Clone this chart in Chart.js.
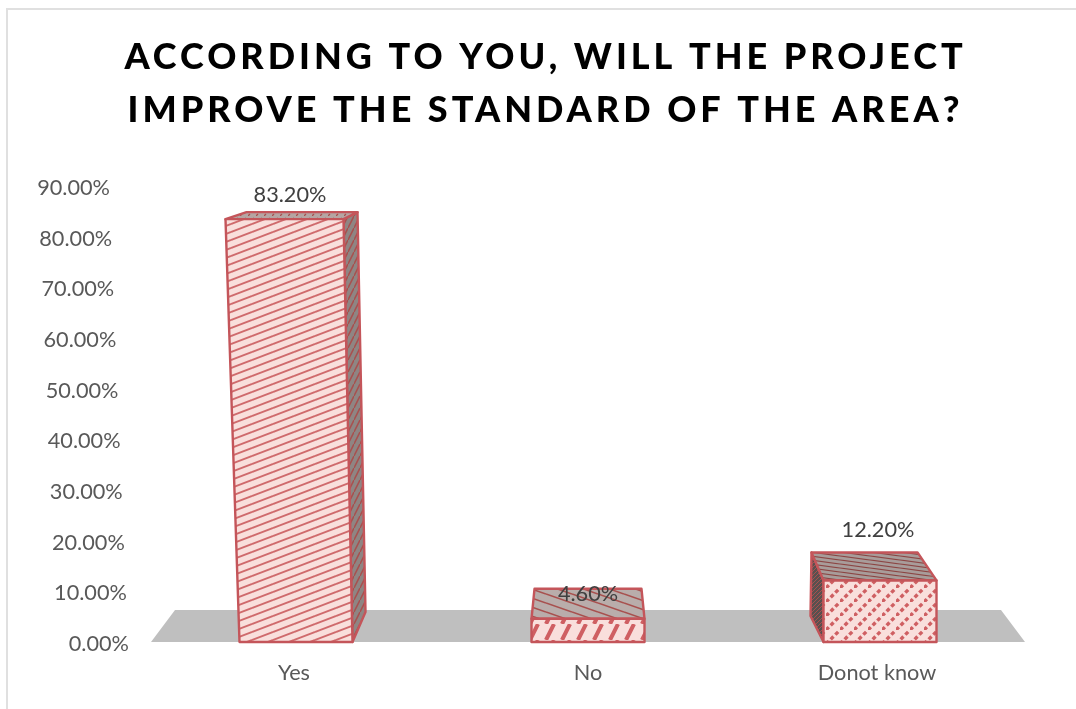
<!DOCTYPE html>
<html>
<head>
<meta charset="utf-8">
<style>
  html, body { margin: 0; padding: 0; background: #fff; }
  #wrap { position: relative; width: 1076px; height: 709px; overflow: hidden; }
  #frame { position: absolute; left: 6px; top: 8px; width: 1090px; height: 730px; border: 2px solid #e0e0e0; box-sizing: border-box; }
  canvas { position: absolute; left: 0; top: 0; }
</style>
<script src="https://cdn.jsdelivr.net/npm/chart.js@4/dist/chart.umd.min.js"></script>
</head>
<body>
<div id="wrap">
  <div id="frame"></div>
  <canvas id="chart" width="1076" height="709"></canvas>
</div>
<script>
const categories = ['Yes', 'No', 'Donot know'];
const shares = [0.832, 0.046, 0.122];
const titleLines = ['ACCORDING TO YOU, WILL THE PROJECT', 'IMPROVE THE STANDARD OF THE AREA?'];

const RED = '#c4555a';
const FONT = 'Lato, "Open Sans", sans-serif';

// small repeating hatch tile
function hatch(w, h, bg, fg, lw, draw) {
  const c = document.createElement('canvas');
  c.width = w; c.height = h;
  const g = c.getContext('2d');
  g.fillStyle = bg;
  g.fillRect(0, 0, w, h);
  g.strokeStyle = fg;
  g.lineWidth = lw;
  draw(g, w, h);
  return document.getElementById('chart').getContext('2d').createPattern(c, 'repeat');
}
function line(g, x1, y1, x2, y2) {
  g.beginPath();
  g.moveTo(x1, y1);
  g.lineTo(x2, y2);
  g.stroke();
}
// rising line that joins up with the tile above and below
const rising = (g, w, h) => {
  [-h, 0, h].forEach(o => line(g, 0, h + o, w, o));
};
const falling = (g, w, h) => {
  [-h, 0, h].forEach(o => line(g, 0, o, w, h + o));
};
const dotted = (dash, gap) => (g, w, h) => {
  g.setLineDash([dash, gap]);
  line(g, 0, h, w, 0);
};
const stepped = (g, w, h) => line(g, 2, h, 10, 0);

// 3D look of each bar, offsets from the bar's own box
const boxes = [
  {
    frontTopL: -14, frontTopR: -9, topDy: -3, back: 7, backL: 7, backR: 5,
    front: hatch(21, 8, '#f9dfdc', '#cf6a6c', 1.9, rising),
    top: hatch(8, 8, '#b5a5a3', '#a8504e', 1.3, dotted(2.8, 2.85)),
    side: 'right', sideFill: hatch(6, 12, '#8f8583', '#a8504e', 1.5, rising),
    labelDx: -6, labelDy: -27
  },
  {
    frontTopL: 0, frontTopR: 0, topDy: 0, back: 30, backL: 3, backR: -3,
    front: hatch(16, 16, '#f9dfdc', '#cf5f62', 4, stepped),
    top: hatch(26, 9, '#b9adab', '#a8504e', 1.6, falling),
    side: null,
    labelDx: 0, labelDy: -25
  },
  {
    frontTopL: 0, frontTopR: 0, topDy: 0, back: 28, backL: -12, backR: -19,
    front: hatch(14, 14, '#f9dfdc', '#cf5f62', 3.4, dotted(4, 2.6)),
    top: hatch(30, 4, '#a89c9a', '#8c4644', 1.2, falling),
    side: 'left', sideFill: hatch(4, 4, '#59504f', '#a8504e', 1, rising),
    labelDx: -2, labelDy: -50
  }
];

function poly(ctx, pts, fill) {
  ctx.beginPath();
  pts.forEach((p, i) => i ? ctx.lineTo(p[0], p[1]) : ctx.moveTo(p[0], p[1]));
  ctx.closePath();
  ctx.fillStyle = fill;
  ctx.fill();
  ctx.strokeStyle = RED;
  ctx.lineWidth = 2.4;
  ctx.lineJoin = 'round';
  ctx.stroke();
}

// gray floor behind the bars, runs along the x axis
const floorPlugin = {
  id: 'floor',
  beforeDatasetsDraw(chart) {
    const { ctx, chartArea: a, scales } = chart;
    const base = scales.y.getPixelForValue(0);
    ctx.save();
    ctx.beginPath();
    ctx.moveTo(a.left + 1, base);
    ctx.lineTo(a.right - 1, base);
    ctx.lineTo(a.right - 25, base - 32);
    ctx.lineTo(a.left + 25, base - 32);
    ctx.closePath();
    ctx.fillStyle = '#bfbfbf';
    ctx.fill();
    ctx.restore();
  }
};

const boxPlugin = {
  id: 'boxes',
  afterDatasetsDraw(chart) {
    const ctx = chart.ctx;
    const bars = chart.getDatasetMeta(0).data;
    ctx.save();
    bars.forEach((bar, i) => {
      const b = boxes[i];
      const l = bar.x - bar.width / 2, r = bar.x + bar.width / 2;
      const top = bar.y + b.topDy, base = bar.base;
      const tl = l + b.frontTopL, tr = r + b.frontTopR;
      const backY = top - b.back;
      const bl = tl + b.backL + (b.side === 'right' ? 14 : 0), br = tr + b.backR + (b.side === 'right' ? 9 : 0);
      if (b.side === 'right') {
        poly(ctx, [[tr, top], [br, backY], [r + 13, base - 30], [r, base]], b.sideFill);
      }
      if (b.side === 'left') {
        poly(ctx, [[tl, top], [bl, backY], [l - 13, base - 26], [l, base]], b.sideFill);
      }
      poly(ctx, [[tl, top], [bl, backY], [br, backY], [tr, top]], b.top);
      poly(ctx, [[tl, top], [tr, top], [r, base], [l, base]], b.front);
    });
    ctx.restore();
  }
};

const labelPlugin = {
  id: 'valueLabels',
  afterDraw(chart) {
    const ctx = chart.ctx;
    ctx.save();
    ctx.font = '21.7px ' + FONT;
    ctx.fillStyle = '#404040';
    ctx.textAlign = 'center';
    ctx.textBaseline = 'middle';
    chart.getDatasetMeta(0).data.forEach((bar, i) => {
      ctx.fillText((shares[i] * 100).toFixed(2) + '%', bar.x + boxes[i].labelDx, bar.y + boxes[i].labelDy);
    });
    ctx.restore();
  }
};

// the 3D view leans the value axis labels: further left the higher they sit
const tickLean = {
  id: 'tickLean',
  beforeDraw(chart) {
    const y = chart.scales.y, x = chart.scales.x;
    if (y.leaned) return;
    y.getLabelItems().forEach((item, i) => {
      const v = y.ticks[i].value;
      item.options.translation[0] -= 19 * v / 0.9;
      item.options.translation[1] += 2 - 2 * v / 0.9;
    });
    const nudge = [-2, 0, -3];
    x.getLabelItems().forEach((item, i) => {
      item.options.translation[0] += nudge[i];
    });
    y.leaned = true;
  }
};

// title needs letter spacing and sits a bit right of the plot centre
const titleSpacing = {
  id: 'titleSpacing',
  beforeDraw(chart) {
    const block = chart.titleBlock;
    if (block.spaced) return;
    const draw = block.draw.bind(block);
    block.draw = function () {
      const ctx = chart.ctx;
      ctx.save();
      ctx.letterSpacing = '4px';
      ctx.translate(27.5, 1);
      draw();
      ctx.restore();
    };
    block.spaced = true;
  }
};

new Chart(document.getElementById('chart'), {
  type: 'bar',
  data: {
    labels: categories,
    datasets: [{
      data: shares,
      backgroundColor: 'rgba(0,0,0,0)',
      borderWidth: 0,
      categoryPercentage: 1,
      barPercentage: 0.387
    }]
  },
  options: {
    responsive: false,
    animation: false,
    layout: { padding: { left: 10, right: 50, top: 0, bottom: 0 } },
    scales: {
      x: {
        grid: { display: false },
        border: { display: false },
        ticks: { color: '#595959', font: { family: FONT, size: 21.7 }, padding: 10, maxRotation: 0 },
        afterFit(scale) { scale.height = 67; }
      },
      y: {
        min: 0,
        max: 0.9,
        grid: { display: false },
        border: { display: false },
        ticks: {
          stepSize: 0.1,
          color: '#595959',
          font: { family: FONT, size: 21.7 },
          padding: 13,
          callback: v => (v * 100).toFixed(2) + '%'
        },
        afterFit(scale) { scale.width = 140; }
      }
    },
    plugins: {
      legend: { display: false },
      tooltip: { enabled: false },
      title: {
        display: true,
        text: titleLines,
        color: '#000',
        font: { family: FONT, size: 36, weight: '900', lineHeight: 1.47 },
        padding: { top: 30, bottom: 52 }
      }
    }
  },
  plugins: [titleSpacing, tickLean, floorPlugin, boxPlugin, labelPlugin]
});
</script>
</body>
</html>
